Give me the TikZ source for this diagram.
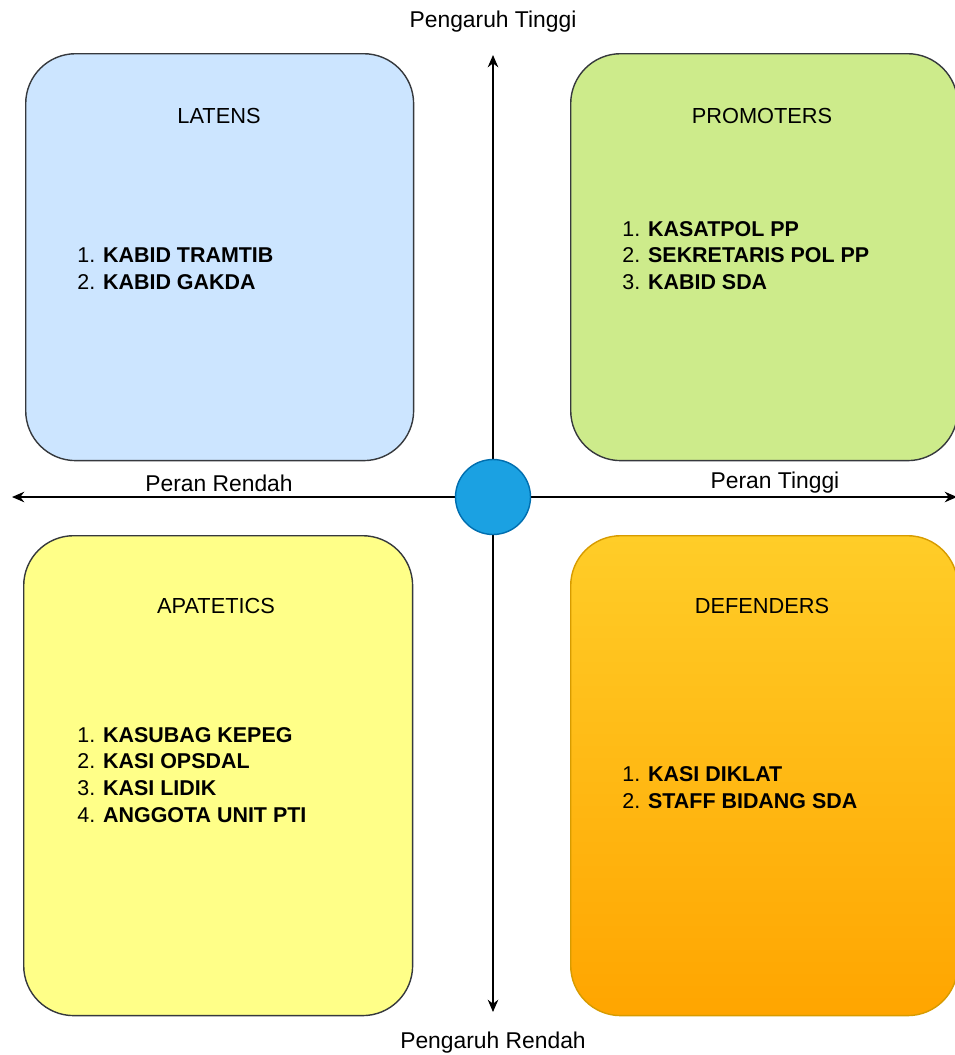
\documentclass[tikz,border=0pt]{standalone}
\usepackage{fontspec}
\setmainfont{Liberation Sans}
\usepackage{tikz}
\usetikzlibrary{arrows.meta}
\definecolor{latensfill}{HTML}{CCE5FF}
\definecolor{promofill}{HTML}{CDEB8B}
\definecolor{apafill}{HTML}{FFFF88}
\definecolor{quadline}{HTML}{36393D}
\definecolor{deftop}{HTML}{FFCD28}
\definecolor{defbottom}{HTML}{FFA500}
\definecolor{defline}{HTML}{D79B00}
\definecolor{hubfill}{HTML}{1BA1E2}
\definecolor{hubline}{HTML}{006EAF}

\begin{document}
\begin{tikzpicture}[x=0.02cm,y=-0.02cm,
    quad/.style={draw=quadline,line width=0.8pt,rounded corners=1cm,anchor=north west,inner sep=0pt},
    title/.style={font=\fontsize{12.4}{15}\selectfont},
    items/.style={anchor=west,align=left,inner sep=0pt,font=\fontsize{12.2}{15.3}\selectfont},
    axlabel/.style={font=\fontsize{13}{15}\selectfont},
    axis/.style={line width=0.9pt,{Stealth[length=7pt,width=6pt]}-{Stealth[length=7pt,width=6pt]}}]
                \useasboundingbox (0,0) rectangle (955,1055);

                \node[quad,fill=latensfill,minimum width=7.76cm,minimum height=8.14cm] (latens) at (25,53) {};
                \node[quad,fill=promofill,minimum width=7.74cm,minimum height=8.14cm] (promoters) at (570,53) {};
                \node[quad,fill=apafill,minimum width=7.78cm,minimum height=9.6cm] (apatetics) at (23,535) {};
                \node[quad,draw=defline,top color=deftop,bottom color=defbottom,minimum width=7.74cm,minimum height=9.6cm] (defenders) at (570,535) {};

                \node[title] (latens-t) at (219,116) {LATENS};
                \node[title] (promoters-t) at (762,116) {PROMOTERS};
                \node[title] (apatetics-t) at (216,606) {APATETICS};
                \node[title] (defenders-t) at (762,606) {DEFENDERS};

                \node[items] (latens-l) at (77,269) {1. \textbf{KABID TRAMTIB}\\2. \textbf{KABID GAKDA}};
                \node[items] (promoters-l) at (622,255.5) {1. \textbf{KASATPOL PP}\\2. \textbf{SEKRETARIS POL PP}\\3. \textbf{KABID SDA}};
                \node[items] (apatetics-l) at (77,775) {1. \textbf{KASUBAG KEPEG}\\2. \textbf{KASI OPSDAL}\\3. \textbf{KASI LIDIK}\\4. \textbf{ANGGOTA UNIT PTI}};
                \node[items] (defenders-l) at (622,787.5) {1. \textbf{KASI DIKLAT}\\2. \textbf{STAFF BIDANG SDA}};

                \coordinate (west) at (12,497);
                \coordinate (east) at (957,497);
                \coordinate (north) at (493,55);
                \coordinate (south) at (493,1012);
                \draw[axis] (west) -- (east);
                \draw[axis] (north) -- (south);

                \node[draw=hubline,fill=hubfill,line width=0.8pt,circle,minimum size=1.5cm,inner sep=0pt] (hub) at (493,497) {};

                \node[axlabel] (high-i) at (493,22) {Pengaruh Tinggi};
                \node[axlabel] (low-i) at (493,1043) {Pengaruh Rendah};
                \node[axlabel] (low-r) at (219,483) {Peran Rendah};
                \node[axlabel] (high-r) at (775,483) {Peran Tinggi};
            \end{tikzpicture}
\end{document}
